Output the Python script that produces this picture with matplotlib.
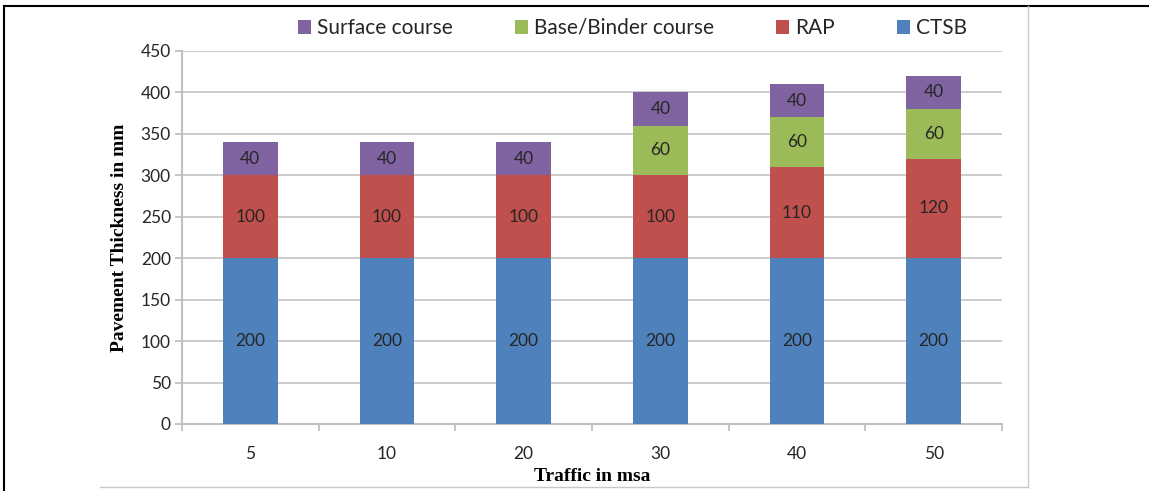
import numpy as np
from matplotlib import pyplot as plt
from matplotlib.lines import Line2D

# traffic categories (msa) and layer thicknesses (mm)
traffic = ['5', '10', '20', '30', '40', '50']
ctsb = [200, 200, 200, 200, 200, 200]
rap = [100, 100, 100, 100, 110, 120]
base_binder = [0, 0, 0, 60, 60, 60]
surface = [40, 40, 40, 40, 40, 40]

layers = [
    ('CTSB', ctsb, '#4F81BD'),
    ('RAP', rap, '#C0504D'),
    ('Base/Binder course', base_binder, '#9BBB59'),
    ('Surface course', surface, '#8064A2'),
]
legend_order = ['Surface course', 'Base/Binder course', 'RAP', 'CTSB']

tick_font = 'Lato'
label_font = 'Liberation Serif'
text_color = '#262626'

fig = plt.figure(figsize=(11.49, 4.91), dpi=100)
ax = fig.add_axes([0.1584, 0.1365, 0.7137, 0.7597])

x = np.arange(len(traffic))
bottom = np.zeros(len(traffic))
handles = {}
for name, vals, color in layers:
    vals = np.array(vals, dtype=float)
    bars = ax.bar(x, vals, width=0.4, bottom=bottom, color=color, zorder=3)
    handles[name] = bars
    # label each segment in the middle
    for xi, b, v in zip(x, bottom, vals):
        if v > 0:
            ax.text(xi, b + v / 2, f'{int(v)}', ha='center', va='center',
                    fontsize=12.5, family=tick_font, color=text_color, zorder=4)
    bottom += vals

ax.set_xlim(-0.5, len(traffic) - 0.5)
ax.set_ylim(0, 450)
ax.set_yticks(np.arange(0, 451, 50))
ax.yaxis.grid(True, color='#c8c8c8', linewidth=1.3, zorder=0)
ax.set_axisbelow(True)

# category labels centered, ticks on category boundaries
ax.set_xticks(x)
ax.set_xticklabels(traffic)
ax.set_xticks(np.arange(-0.5, len(traffic), 1), minor=True)
ax.tick_params(axis='x', which='major', length=0, pad=16)
ax.tick_params(axis='x', which='minor', length=5, width=1.3, color='#c0c0c0', direction='out')
ax.tick_params(axis='y', length=5, width=1.3, color='#c0c0c0', pad=3)
for lab in ax.get_xticklabels() + ax.get_yticklabels():
    lab.set_fontfamily(tick_font)
    lab.set_fontsize(12.5)
    lab.set_color(text_color)

for side in ['top', 'right']:
    ax.spines[side].set_visible(False)
for side in ['left', 'bottom']:
    ax.spines[side].set_color('#c0c0c0')
    ax.spines[side].set_linewidth(1.5)

ax.set_ylabel('Pavement Thickness in mm', family=label_font, fontweight='bold',
              fontsize=14, labelpad=9)
ax.set_xlabel('Traffic in msa', family=label_font, fontweight='bold',
              fontsize=14, labelpad=4)

leg = fig.legend([handles[n] for n in legend_order], legend_order,
                 loc='center', bbox_to_anchor=(0.5505, 0.943), ncol=4,
                 frameon=False, handlelength=0.65, handleheight=0.65,
                 handletextpad=0.3, columnspacing=2.95,
                 prop={'family': tick_font, 'size': 15})
for t in leg.get_texts():
    t.set_color(text_color)

# chart frame: black top/left, grey right/bottom
fig.add_artist(Line2D([0.0035, 0.0035], [0.0, 0.988], color='black', linewidth=1.5))
fig.add_artist(Line2D([0.0035, 1.0], [0.988, 0.988], color='black', linewidth=1.5))
fig.add_artist(Line2D([0.895, 0.895], [0.008, 0.988], color='#c8c8c8', linewidth=1.0))
fig.add_artist(Line2D([0.087, 0.895], [0.008, 0.008], color='#c8c8c8', linewidth=1.0))

fig.savefig('out.png', dpi=100)
